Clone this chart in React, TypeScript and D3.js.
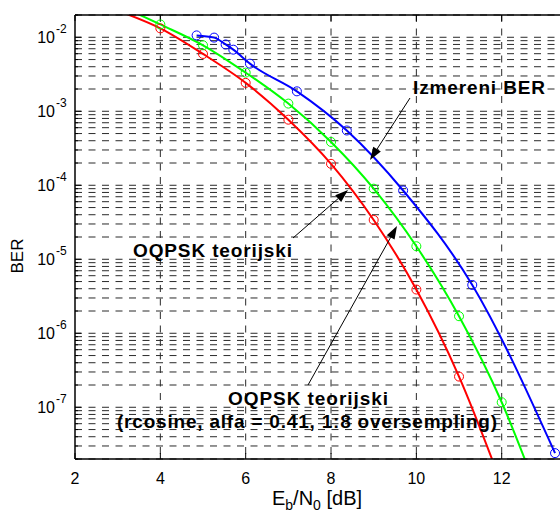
import React from 'react';
import * as d3 from 'd3';

// OQPSK teorijski (red)
const redX = [3, 4, 5, 6, 7, 8, 9, 10, 11, 12];
const redY = [2.29e-2, 1.32e-2, 5.95e-3, 2.42e-3, 7.7e-4, 1.95e-4, 3.4e-5, 3.9e-6, 2.6e-7, 9e-9];
const redMarkX = [4, 5, 6, 7, 8, 9, 10, 11];

// OQPSK teorijski, rcosine (green)
const greenX = [3, 4, 5, 6, 7, 8, 9, 10, 11, 12, 13];
const greenY = [2.75e-2, 1.49e-2, 7.8e-3, 3.33e-3, 1.27e-3, 3.85e-4, 9.0e-5, 1.5e-5, 1.7e-6, 1.17e-7, 4e-9];
const greenMarkX = [4, 5, 6, 7, 8, 9, 10, 11, 12];

// Izmereni BER (blue)
const blueX = [4.85, 5.26, 5.53, 5.71, 6.1, 7.2, 8.37, 9.69, 11.31, 13.25];
const blueY = [1.06e-2, 9.9e-3, 8.0e-3, 6.8e-3, 4.4e-3, 1.86e-3, 5.5e-4, 8.5e-5, 4.5e-6, 2.4e-8];

const xTicks = [2, 4, 6, 8, 10, 12, 14];
const xTickLabels = [2, 4, 6, 8, 10, 12];
const yDecades = [-8, -7, -6, -5, -4, -3, -2];

const W = 560;
const H = 513;
const margin = { left: 75, top: 15, bottom: 459 };
const plotRight = 75 + 12 * 42.67;

const font = "'Liberation Sans', Arial, Helvetica, sans-serif";

function Arrow({ x1, y1, x2, y2 }) {
  const ang = Math.atan2(y2 - y1, x2 - x1);
  const L = 13, hw = 4.5;
  const bx = x2 - L * Math.cos(ang), by = y2 - L * Math.sin(ang);
  const px = -Math.sin(ang) * hw, py = Math.cos(ang) * hw;
  return (
    <g>
      <line x1={x1} y1={y1} x2={bx} y2={by} stroke="#000" strokeWidth={1} />
      <path d={`M${x2},${y2}L${bx + px},${by + py}L${bx - px},${by - py}Z`} fill="#000" />
    </g>
  );
}

export default function App() {
  const x = d3.scaleLinear().domain([2, 14]).range([margin.left, plotRight]);
  const y = d3.scaleLog().domain([2e-8, 2e-2]).range([margin.bottom, margin.top]);

  const line = d3.line<[number, number]>()
    .x((d) => x(d[0]))
    .y((d) => y(d[1]))
    .curve(d3.curveMonotoneX);

  const red = redX.map((v, i) => [v, redY[i]] as [number, number]);
  const green = greenX.map((v, i) => [v, greenY[i]] as [number, number]);
  const blue = blueX.map((v, i) => [v, blueY[i]] as [number, number]);

  // minor grid values 1..9 x 10^k inside the domain
  const gridVals: number[] = [];
  yDecades.forEach((k) => {
    for (let m = 1; m <= 9; m++) {
      const v = m * Math.pow(10, k);
      if (v >= 2e-8 && v <= 2e-2) gridVals.push(v);
    }
  });

  const dash = '7,6.5';
  const gridColor = '#2a2a2a';

  return (
    <div style={{ position: 'absolute', left: 0, top: 0 }}>
      <svg width={W} height={H} style={{ display: 'block', background: '#fff' }} fontFamily={font}>
        <defs>
          <clipPath id="plot">
            <rect x={margin.left} y={margin.top} width={plotRight - margin.left} height={margin.bottom - margin.top} />
          </clipPath>
        </defs>

        {/* horizontal grid */}
        {gridVals.map((v, i) => (
          <line key={'h' + i} x1={margin.left} x2={plotRight} y1={y(v)} y2={y(v)}
            stroke={gridColor} strokeWidth={1} strokeDasharray={dash} />
        ))}
        {/* vertical grid */}
        {xTicks.slice(1).map((t) => (
          <line key={'v' + t} x1={x(t)} x2={x(t)} y1={margin.top} y2={margin.bottom}
            stroke={gridColor} strokeWidth={1} strokeDasharray={dash} />
        ))}

        {/* ticks */}
        {gridVals.map((v, i) => {
          const major = Math.abs(Math.log10(v) - Math.round(Math.log10(v))) < 1e-9;
          return (
            <line key={'yt' + i} x1={margin.left} x2={margin.left + (major ? 6 : 3)} y1={y(v)} y2={y(v)} stroke="#000" />
          );
        })}
        {xTicks.map((t) => (
          <g key={'xt' + t}>
            <line x1={x(t)} x2={x(t)} y1={margin.bottom} y2={margin.bottom - 6} stroke="#000" />
            <line x1={x(t)} x2={x(t)} y1={margin.top} y2={margin.top + 6} stroke="#000" />
          </g>
        ))}

        {/* series */}
        <g clipPath="url(#plot)">
          <path d={line(red) || ''} fill="none" stroke="#ff0000" strokeWidth={2} />
          <path d={line(green) || ''} fill="none" stroke="#00ff00" strokeWidth={2} />
          <path d={line(blue) || ''} fill="none" stroke="#0000ff" strokeWidth={2} />
          {redMarkX.map((v) => (
            <circle key={'rm' + v} cx={x(v)} cy={y(redY[redX.indexOf(v)])} r={4.5} fill="none" stroke="#ff0000" strokeWidth={1} />
          ))}
          {greenMarkX.map((v) => (
            <circle key={'gm' + v} cx={x(v)} cy={y(greenY[greenX.indexOf(v)])} r={4.5} fill="none" stroke="#00ff00" strokeWidth={1} />
          ))}
          {blue.map((d, i) => (
            <circle key={'bm' + i} cx={x(d[0])} cy={y(d[1])} r={4.5} fill="none" stroke="#0000ff" strokeWidth={1} />
          ))}
        </g>

        {/* axes box */}
        <line x1={margin.left} x2={margin.left} y1={margin.top} y2={margin.bottom} stroke="#000" strokeWidth={1.5} />
        <line x1={margin.left} x2={plotRight} y1={margin.top} y2={margin.top} stroke="#000" strokeWidth={1.5} />
        <line x1={margin.left} x2={plotRight} y1={margin.bottom} y2={margin.bottom} stroke="#000" strokeWidth={1.5} />
        <line x1={plotRight} x2={plotRight} y1={margin.top} y2={margin.bottom} stroke="#000" strokeWidth={1.5} />

        {/* tick labels */}
        {xTickLabels.map((t) => (
          <text key={'xl' + t} x={x(t)} y={484} textAnchor="middle" fontSize={16}>{t}</text>
        ))}
        {yDecades.slice(1).map((k) => (
          <g key={'yl' + k}>
            <text x={55} y={y(Math.pow(10, k)) + 6} textAnchor="end" fontSize={16}>10</text>
            <text x={56} y={y(Math.pow(10, k)) - 4} fontSize={12}>{k}</text>
          </g>
        ))}

        {/* axis labels */}
        <text transform="translate(23,256) rotate(-90)" textAnchor="middle" fontSize={17}>BER</text>
        <text x={317} y={505} textAnchor="middle" fontSize={20}>
          E<tspan fontSize={14} dy={5}>b</tspan><tspan dy={-5}>/N</tspan><tspan fontSize={14} dy={5}>0</tspan><tspan dy={-5}> [dB]</tspan>
        </text>

        {/* annotations */}
        <text x={413} y={94} fontSize={19} fontWeight="bold" textLength={132} lengthAdjust="spacing">Izmereni BER</text>
        <Arrow x1={410} y1={98} x2={370} y2={160} />
        <text x={133} y={257} fontSize={19} fontWeight="bold" textLength={159} lengthAdjust="spacing">OQPSK teorijski</text>
        <Arrow x1={293} y1={238} x2={348} y2={190} />
        <text x={228} y={405} fontSize={19} fontWeight="bold" textLength={160} lengthAdjust="spacing">OQPSK teorijski</text>
        <text x={117} y={428} fontSize={19} fontWeight="bold" textLength={380} lengthAdjust="spacing">(rcosine, alfa = 0.41, 1:8 oversempling)</text>
        <Arrow x1={308} y1={385} x2={397} y2={226} />
      </svg>
    </div>
  );
}
